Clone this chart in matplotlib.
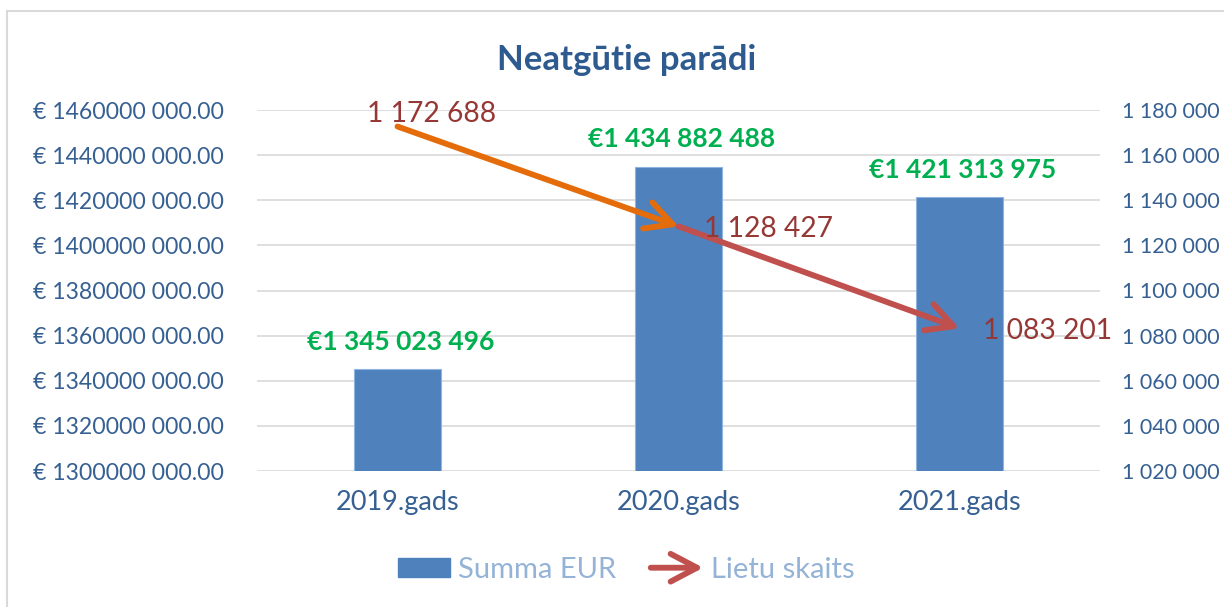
import matplotlib
matplotlib.use("Agg")
import matplotlib.pyplot as plt
from matplotlib.patches import FancyArrowPatch, Rectangle, Patch
from matplotlib.legend_handler import HandlerBase
from matplotlib.lines import Line2D
from matplotlib.ticker import FuncFormatter, MultipleLocator

plt.rcParams['font.family'] = ['Lato', 'DejaVu Sans']

# ---- data ----
categories = ["2019.gads", "2020.gads", "2021.gads"]
summa_eur = [1345023496, 1434882488, 1421313975]
lietu_skaits = [1172688, 1128427, 1083201]
bar_labels = ["€1 345 023 496", "€1 434 882 488", "€1 421 313 975"]
line_labels = ["1 172 688", "1 128 427", "1 083 201"]
title = "Neatgūtie parādi"
legend_names = ["Summa EUR", "Lietu skaits"]

# ---- styles ----
BAR = "#4F81BD"
BAR_EDGE = "#8EB4E3"
ORANGE = "#E46C0A"
RED = "#C0504D"
LABEL_RED = "#953735"
GREEN = "#00B050"
TXT = "#366092"
LEG_TXT = "#95B3D7"
GRID = "#D9D9D9"

W, H = 1224, 607
fig = plt.figure(figsize=(W / 100, H / 100), dpi=100)
ax = fig.add_axes([257 / W, 1 - 471 / H, (1100 - 257) / W, (471 - 110) / H])
ax2 = ax.twinx()

x = list(range(len(categories)))
ax.bar(x, summa_eur, width=0.313, color=BAR, edgecolor=BAR_EDGE, linewidth=0.8, zorder=2)
ax.set_xlim(-0.5, 2.5)
ax.set_ylim(1300000000, 1460000000)
ax.yaxis.set_major_locator(MultipleLocator(20000000))
ax.yaxis.set_major_formatter(FuncFormatter(
    lambda v, p: f"€ {int(round(v)) // 1000} {int(round(v)) % 1000:03d}.00"))
ax.set_axisbelow(True)
ax.grid(axis='y', color=GRID, lw=1.2)
ax.grid(axis='x', visible=False)
for s in ax.spines.values():
    s.set_visible(False)
ax.set_xticks(x)
ax.set_xticklabels(categories)
ax.tick_params(axis='y', length=0, pad=24, labelsize=16.6, labelcolor=TXT)
ax.tick_params(axis='x', length=0, pad=14, labelsize=19.5, labelcolor=TXT)

for xi, v, lab in zip(x, summa_eur, bar_labels):
    ax.annotate(lab, (xi, v), xytext=(2, 11), textcoords='offset points',
                ha='center', va='bottom', color=GREEN, fontsize=19,
                fontweight='bold')

ax2.set_ylim(1020000, 1180000)
ax2.yaxis.set_major_locator(MultipleLocator(20000))
ax2.yaxis.set_major_formatter(FuncFormatter(
    lambda v, p: f"{int(round(v)):,}".replace(",", " ")))
ax2.tick_params(axis='y', length=0, pad=16, labelsize=15.5, labelcolor=TXT)
for s in ax2.spines.values():
    s.set_visible(False)

seg_colors = [ORANGE, RED]
astyle = "->,head_length=0.95,head_width=0.5"
for i in range(len(lietu_skaits) - 1):
    arr = FancyArrowPatch((x[i], lietu_skaits[i]), (x[i + 1], lietu_skaits[i + 1]),
                          arrowstyle=astyle, mutation_scale=20, lw=4.2,
                          color=seg_colors[i], shrinkA=0, shrinkB=0,
                          capstyle='round', joinstyle='round', zorder=3)
    ax2.add_patch(arr)

offsets = [(-22, 9), (18, -2), (17, -2)]
for xi, v, lab, off in zip(x, lietu_skaits, line_labels, offsets):
    ax2.annotate(lab, (xi, v), xytext=off, textcoords='offset points',
                 ha='left', va='center', color=LABEL_RED, fontsize=20.3, zorder=4)

fig.text(627 / W, 1 - 60 / H, title, ha='center', va='center',
         fontsize=25, fontweight='bold', color="#2E5B8F")

# chart frame
fig.add_artist(Rectangle((7 / W, -0.2), 2, (H - 11) / H + 0.2, transform=fig.transFigure,
                         fill=False, edgecolor=GRID, lw=1.5))


class ArrowHandler(HandlerBase):
    def create_artists(self, legend, orig_handle, xdescent, ydescent, width, height,
                       fontsize, trans):
        y = height / 2 - ydescent
        p = FancyArrowPatch((-xdescent, y), (-xdescent + width, y), arrowstyle=astyle,
                            mutation_scale=20, lw=4.2, color=RED, shrinkA=0, shrinkB=0,
                            capstyle='round', joinstyle='round', transform=trans)
        return [p]


h_bar = Patch(facecolor=BAR, edgecolor=BAR)
h_line = Line2D([], [], color=RED)
leg = fig.legend([h_bar, h_line], legend_names, loc='center',
                 bbox_to_anchor=(626 / W, 1 - 570 / H), ncol=2, frameon=False,
                 fontsize=21, handlelength=1.8, handleheight=0.6, handletextpad=0.25,
                 columnspacing=1.2, handler_map={h_line: ArrowHandler()})
for t in leg.get_texts():
    t.set_color(LEG_TXT)

fig.savefig("out.png", dpi=100)
